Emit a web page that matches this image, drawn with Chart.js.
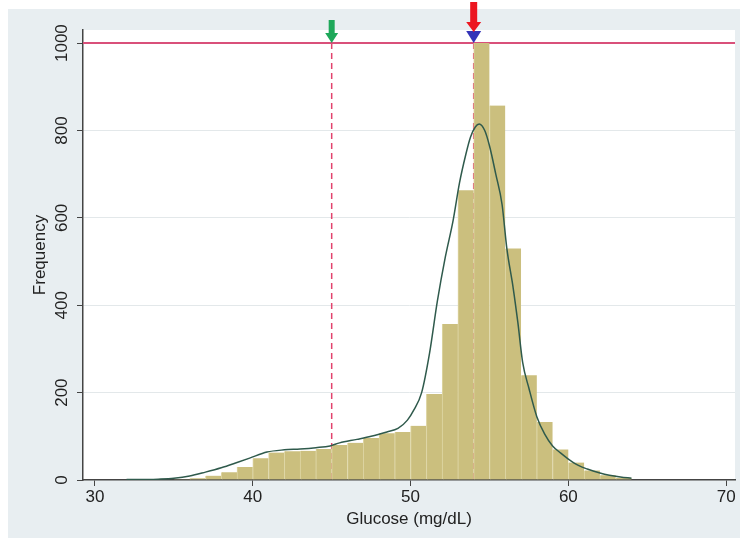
<!DOCTYPE html>
<html>
<head>
<meta charset="utf-8">
<script src="https://cdn.jsdelivr.net/npm/chart.js@4.4.1/dist/chart.umd.min.js"></script>
<style>
  html, body { margin: 0; padding: 0; background: #fff; }
</style>
</head>
<body>
<canvas id="glucoseChart" width="743" height="548"></canvas>
<script>
// Histogram: bin centres (1 mg/dL wide bins) and counts
const binCenters = [34.5, 35.5, 36.5, 37.5, 38.5, 39.5, 40.5, 41.5, 42.5, 43.5,
                    44.5, 45.5, 46.5, 47.5, 48.5, 49.5, 50.5, 51.5, 52.5, 53.5,
                    54.5, 55.5, 56.5, 57.5, 58.5, 59.5, 60.5, 61.5, 62.5, 63.5];
const binCounts = [1, 2, 4, 10, 18, 30, 50, 63, 66, 67,
                   71, 80, 85, 96, 107, 110, 124, 197, 357, 663,
                   1000, 857, 530, 240, 133, 70, 40, 22, 11, 5];

// Smoothed density overlay, scaled to frequency
const densityX = [32, 33, 34, 35, 36, 37, 38, 39, 39.8, 40.9, 42, 43, 44, 44.9, 45.5,
                  46.6, 47.5, 48.5, 49.2, 49.8, 50.2, 50.7, 51.2, 51.7, 52.2, 52.7, 53.1,
                  53.5, 53.8, 54.1, 54.35, 54.7, 55.0, 55.4, 55.8, 56.1, 56.5, 56.8, 57.1,
                  57.5, 58.0, 58.5, 59.0, 59.5, 60.0, 60.6, 61.2, 62.0, 62.6, 63.3, 64];
const densityY = [1, 1, 2, 4, 9, 18, 28, 40, 50, 64, 69, 71, 74, 78, 85,
                  93, 100, 110, 118, 137, 160, 200, 290, 410, 510, 595, 680,
                  745, 785, 808, 815, 800, 765, 700, 630, 530, 440, 360, 270,
                  210, 145, 105, 78, 62, 48, 34, 25, 16, 11, 7, 4];

// Axis ticks
const xTicks = [30, 40, 50, 60, 70];
const yTicks = [0, 200, 400, 600, 800, 1000];

// Reference markers
const cutoffValue = 45;   // green arrow
const peakValue = 54;     // red + blue arrows
const refLevel = 1000;    // horizontal line

const labelFont = { family: "'Liberation Sans', Arial, sans-serif", size: 17 };
const textColor = '#222';
const axisColor = '#444';

function drawArrow(ctx, px, tipY, shaftLen, headLen, shaftW, headW, color) {
    ctx.fillStyle = color;
    ctx.beginPath();
    ctx.moveTo(px - shaftW / 2, tipY - headLen - shaftLen);
    ctx.lineTo(px + shaftW / 2, tipY - headLen - shaftLen);
    ctx.lineTo(px + shaftW / 2, tipY - headLen);
    ctx.lineTo(px + headW / 2, tipY - headLen);
    ctx.lineTo(px, tipY);
    ctx.lineTo(px - headW / 2, tipY - headLen);
    ctx.lineTo(px - shaftW / 2, tipY - headLen);
    ctx.closePath();
    ctx.fill();
}

const decorPlugin = {
    id: 'decor',
    beforeDraw(chart) {
        const { ctx, chartArea: a } = chart;
        ctx.save();
        ctx.fillStyle = '#ffffff';
        ctx.fillRect(0, 0, chart.width, chart.height);
        ctx.fillStyle = '#e8eef1';
        ctx.fillRect(8, 9, 732, 529);
        ctx.fillStyle = '#ffffff';
        ctx.fillRect(a.left, a.top, a.right - a.left, a.bottom - a.top);
        ctx.restore();
    },
    beforeDatasetsDraw(chart) {
        // reference lines sit behind the bars
        const { ctx, chartArea: a, scales: { x, y } } = chart;
        const yRef = y.getPixelForValue(refLevel);
        ctx.save();
        ctx.strokeStyle = '#e2426c';
        ctx.lineWidth = 1.5;
        ctx.setLineDash([6, 4]);
        [cutoffValue, peakValue].forEach(v => {
            const px = x.getPixelForValue(v);
            ctx.beginPath();
            ctx.moveTo(px, yRef);
            ctx.lineTo(px, a.bottom);
            ctx.stroke();
        });
        ctx.setLineDash([]);
        ctx.strokeStyle = '#d9507a';
        ctx.lineWidth = 2;
        ctx.beginPath();
        ctx.moveTo(a.left, yRef);
        ctx.lineTo(a.right, yRef);
        ctx.stroke();
        ctx.restore();
    },
    afterDraw(chart) {
        const { ctx, scales: { x, y } } = chart;
        const yRef = y.getPixelForValue(refLevel);
        ctx.save();
        drawArrow(ctx, x.getPixelForValue(cutoffValue), yRef, 13, 10, 6, 13, '#1ea85a');
        drawArrow(ctx, x.getPixelForValue(peakValue), yRef, 0, 12, 0, 15, '#3434b8');
        drawArrow(ctx, x.getPixelForValue(peakValue), yRef - 11, 20, 10, 7, 15, '#ec1620');
        ctx.restore();
    }
};

const ctx = document.getElementById('glucoseChart').getContext('2d');

new Chart(ctx, {
    type: 'bar',
    data: {
        datasets: [
            {
                type: 'line',
                label: 'Density',
                data: densityX.map((v, i) => ({ x: v, y: densityY[i] })),
                borderColor: '#2f5a4c',
                borderWidth: 1.5,
                pointRadius: 0,
                fill: false,
                cubicInterpolationMode: 'monotone',
                order: 1
            },
            {
                type: 'bar',
                label: 'Frequency',
                data: binCenters.map((v, i) => ({ x: v, y: binCounts[i] })),
                backgroundColor: '#cbbf7e',
                borderColor: '#ded6a4',
                borderWidth: { left: 1, right: 0, top: 0, bottom: 0 },
                borderSkipped: false,
                barPercentage: 1,
                categoryPercentage: 1,
                order: 2
            }
        ]
    },
    options: {
        responsive: false,
        animation: false,
        devicePixelRatio: 1,
        layout: { padding: { top: 30, right: 8, bottom: 0, left: 0 } },
        plugins: {
            legend: { display: false },
            tooltip: { enabled: false }
        },
        scales: {
            x: {
                type: 'linear',
                min: 29.24,
                max: 70.56,
                offset: false,
                afterBuildTicks: scale => { scale.ticks = xTicks.map(v => ({ value: v })); },
                afterFit: scale => { scale.height = 68; },
                ticks: { color: textColor, font: labelFont, padding: 1, maxRotation: 0, callback: v => String(v) },
                grid: { offset: false, drawOnChartArea: false, tickColor: axisColor, tickLength: 6 },
                border: { color: axisColor, width: 1.5 },
                title: {
                    display: true,
                    text: 'Glucose (mg/dL)',
                    color: textColor,
                    font: labelFont,
                    padding: { top: 0, bottom: 18 }
                }
            },
            y: {
                min: 0,
                max: 1030,
                afterBuildTicks: scale => { scale.ticks = yTicks.map(v => ({ value: v })); },
                afterFit: scale => { scale.width = 83; },
                ticks: {
                    color: textColor,
                    font: labelFont,
                    minRotation: 90,
                    maxRotation: 90,
                    crossAlign: 'center',
                    padding: -4,
                    callback: v => String(v)
                },
                grid: {
                    color: c => (c.tick && c.tick.value > 0 && c.tick.value < 1000) ? '#e3e8ea' : 'rgba(0,0,0,0)',
                    tickColor: axisColor,
                    tickLength: 6
                },
                border: { color: axisColor, width: 1.5 },
                title: {
                    display: true,
                    text: 'Frequency',
                    color: textColor,
                    font: labelFont,
                    padding: { top: 30, bottom: 0 }
                }
            }
        }
    },
    plugins: [decorPlugin]
});
</script>
</body>
</html>
